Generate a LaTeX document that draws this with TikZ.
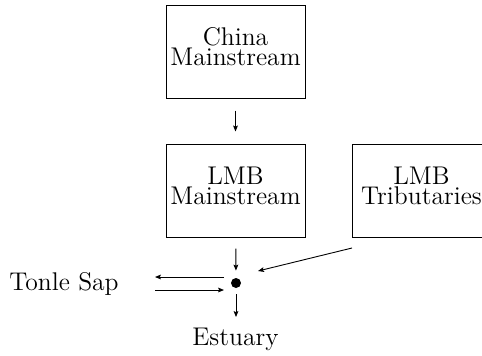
\documentclass[tikz,border=0pt]{standalone}
\usetikzlibrary{arrows.meta}
\begin{document}
\begin{tikzpicture}[x=0.5pt,y=-0.5pt,
  every node/.style={font=\fontsize{12.8}{10.2}\selectfont},
  box/.style={draw,line width=0.5pt,minimum width=69.5pt,minimum height=46.5pt,align=center,inner sep=0pt,text depth=5pt},
  arr/.style={line width=0.45pt,-{Stealth[length=3pt,width=2.4pt,inset=0.6pt]}},
  ]
\useasboundingbox (0,0) rectangle (482,355);
\clip (0,0) rectangle (482,355);
\node[box] (china) at (235.5,51.5) {China\\Mainstream};
\node[box] (lmbm) at (235.5,190.5) {LMB\\Mainstream};
\node[box] (trib) at (421.5,190.5) {LMB\\Tributaries};
\node[circle,fill,inner sep=0pt,minimum size=5pt] (dot) at (236,283) {};
\node[anchor=base] (tonle) at (64,290) {Tonle Sap};
\node[anchor=base] (est) at (235.5,345) {Estuary};
\coordinate (tribs) at (352,248);
\coordinate (tribe) at (258,271);
\coordinate (tu1) at (224,277);
\coordinate (tu2) at (155,277);
\coordinate (tl1) at (155,290);
\coordinate (tl2) at (224,290);
\draw[arr,shorten <=6pt,shorten >=6pt] (china) -- (lmbm);
\draw[arr,shorten <=5.5pt,shorten >=3.5pt] (lmbm) -- (dot);
\draw[arr,shorten <=3pt,shorten >=1.75pt] (dot) -- (dot |- est.north);
\draw[arr] (tribs) -- (tribe);
\draw[arr] (tu1) -- (tu2);
\draw[arr] (tl1) -- (tl2);
\end{tikzpicture}
\end{document}
